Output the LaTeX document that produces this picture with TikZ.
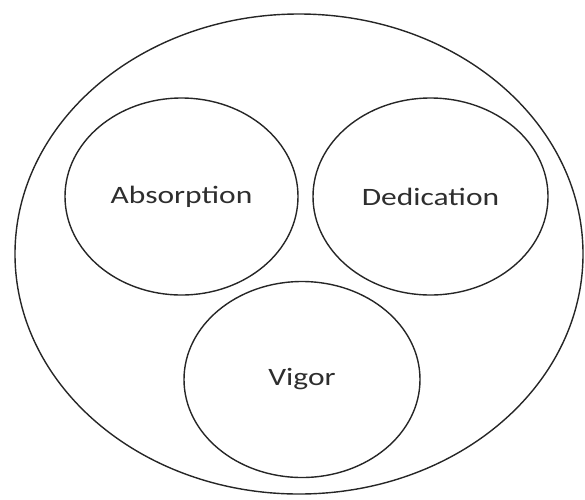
\documentclass[tikz,border=0pt]{standalone}
\usepackage{fontspec}
\setmainfont{Carlito}
\usetikzlibrary{shapes.geometric}
\newcommand{\lbl}[1]{\scalebox{1.26}[1]{\fontsize{25}{30}\selectfont #1}}
\begin{document}
\begin{tikzpicture}[x=1pt,y=-1pt,
  ring/.style={ellipse,draw=black!85,line width=1.4pt,inner sep=0pt,text=black!82}]
\useasboundingbox (0,0) rectangle (585,499);
\node[ring,minimum width=568pt,minimum height=480pt] (outer) at (299,254) {};
\node[ring,minimum width=233pt,minimum height=197pt] (absorption) at (181.5,196.5) {\lbl{Absorption}};
\node[ring,minimum width=235pt,minimum height=197pt] (dedication) at (430.5,196.5) {\lbl{Dedication}};
\node[ring,minimum width=236pt,minimum height=196pt] (vigor) at (302,379.5) {\lbl{Vigor}};
\end{tikzpicture}
\end{document}
